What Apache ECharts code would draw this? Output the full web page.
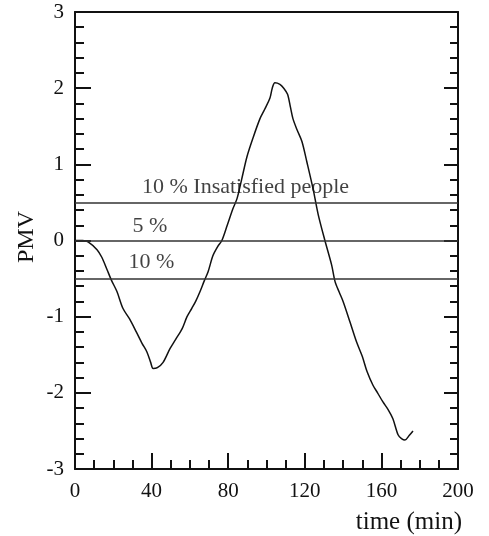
<!DOCTYPE html>
<html>
<head>
<meta charset="utf-8">
<script src="https://cdn.jsdelivr.net/npm/echarts@6/dist/echarts.min.js"></script>
<style>
  html, body { margin: 0; padding: 0; background: #fff; }
  #chart { width: 489px; height: 536px; }
</style>
</head>
<body>
<div id="chart"></div>
<script>
// PMV over time
const timeMin = [0, 4, 7, 11.5, 14, 16.7, 19, 21.9, 25, 28.5, 32, 35, 37.5, 39.5, 40.8, 43, 46, 49.6, 52.5, 55.9,
  58.5, 61, 63, 65.3, 67.5, 69.5, 72, 74.5, 76.7, 79.5, 82.5, 84.6, 87, 89.8, 93, 96.6, 99, 101.8, 103, 104.4,
  107, 109, 111, 112.5, 113.8, 116, 118.5, 121, 124.3, 127, 130.5, 134, 135.8, 138, 140, 143.6, 147, 150, 152.5,
  155.6, 158, 160.8, 163.5, 166, 168.7, 170.5, 172.3, 174.5, 176.5];
const pmv = [0, 0, -0.02, -0.12, -0.22, -0.38, -0.52, -0.67, -0.89, -1.03, -1.2, -1.35, -1.46, -1.6, -1.68, -1.67, -1.6, -1.42, -1.3, -1.16,
  -1.0, -0.89, -0.8, -0.67, -0.53, -0.41, -0.2, -0.08, 0, 0.2, 0.42, 0.55, 0.8, 1.1, 1.35, 1.6, 1.72, 1.87, 2.0, 2.07,
  2.05, 2.0, 1.92, 1.75, 1.6, 1.45, 1.3, 1.04, 0.68, 0.34, 0, -0.32, -0.54, -0.68, -0.8, -1.07, -1.33, -1.52, -1.72,
  -1.9, -2.0, -2.12, -2.22, -2.34, -2.55, -2.6, -2.62, -2.56, -2.5];

// comfort limits (horizontal lines)
const limitLevels = [0.5, 0, -0.5];
// limit labels: [time, pmv, text]
const limitLabels = [
  [35, 0.7, "10 % Insatisfied people"],
  [30, 0.19, "5 %"],
  [28, -0.28, "10 %"],
];

const xTicks = [0, 40, 80, 120, 160, 200];
const yTicks = [-3, -2, -1, 0, 1, 2, 3];

const FONT = "Liberation Serif";
const INK = "#111";

const chart = echarts.init(document.getElementById("chart"), null, { renderer: "canvas" });

const tickCommon = { show: true, inside: true, lineStyle: { color: INK, width: 2 } };

chart.setOption({
  animation: false,
  backgroundColor: "#fff",
  grid: { left: 75, right: 31, top: 12, bottom: 67 },
  xAxis: [
    {
      type: "value",
      min: xTicks[0],
      max: xTicks[xTicks.length - 1],
      interval: 40,
      axisLine: { show: true, onZero: false, lineStyle: { color: INK, width: 2 } },
      axisTick: { ...tickCommon, length: 16 },
      minorTick: { show: true, splitNumber: 4, length: 9, lineStyle: { color: INK, width: 2 } },
      splitLine: { show: false },
      axisLabel: { margin: 12, fontFamily: FONT, fontSize: 21, color: INK },
    },
    {
      type: "value",
      position: "top",
      min: 0,
      max: 200,
      axisLine: { show: true, onZero: false, lineStyle: { color: INK, width: 2 } },
      axisTick: { show: false },
      axisLabel: { show: false },
      splitLine: { show: false },
    },
  ],
  yAxis: [
    {
      type: "value",
      min: yTicks[0],
      max: yTicks[yTicks.length - 1],
      interval: 1,
      axisLine: { show: true, onZero: false, lineStyle: { color: INK, width: 2 } },
      axisTick: { ...tickCommon, length: 16 },
      minorTick: { show: true, splitNumber: 5, length: 9, lineStyle: { color: INK, width: 2 } },
      splitLine: { show: false },
      axisLabel: { margin: 11, fontFamily: FONT, fontSize: 21, color: INK },
    },
    {
      type: "value",
      position: "right",
      min: -3,
      max: 3,
      interval: 1,
      axisLine: { show: true, onZero: false, lineStyle: { color: INK, width: 2 } },
      axisTick: { ...tickCommon, length: 14 },
      minorTick: { show: true, splitNumber: 5, length: 8, lineStyle: { color: INK, width: 2 } },
      splitLine: { show: false },
      axisLabel: { show: false },
    },
  ],
  series: [
    {
      type: "line",
      data: timeMin.map((t, i) => [t, pmv[i]]),
      symbol: "none",
      smooth: 0.3,
      lineStyle: { color: INK, width: 1.5 },
      markLine: {
        silent: true,
        symbol: "none",
        label: { show: false },
        lineStyle: { color: "#333", width: 1.5, type: "solid" },
        data: limitLevels.map((v) => ({ yAxis: v })),
      },
      z: 3,
    },
    {
      type: "scatter",
      data: limitLabels.map((d) => [d[0], d[1], d[2]]),
      symbolSize: 0,
      silent: true,
      label: {
        show: true,
        position: "right",
        distance: 0,
        formatter: (p) => p.data[2],
        fontFamily: FONT,
        fontSize: 22,
        color: INK,
      },
    },
  ],
  graphic: [
    {
      type: "text",
      left: 15,
      top: 211,
      rotation: Math.PI / 2,
      style: { text: "PMV", font: `24px "${FONT}"`, fill: INK },
    },
    {
      type: "text",
      right: 27,
      top: 510,
      style: { text: "time (min)", font: `25px "${FONT}"`, fill: INK },
    },
  ],
});
</script>
</body>
</html>
